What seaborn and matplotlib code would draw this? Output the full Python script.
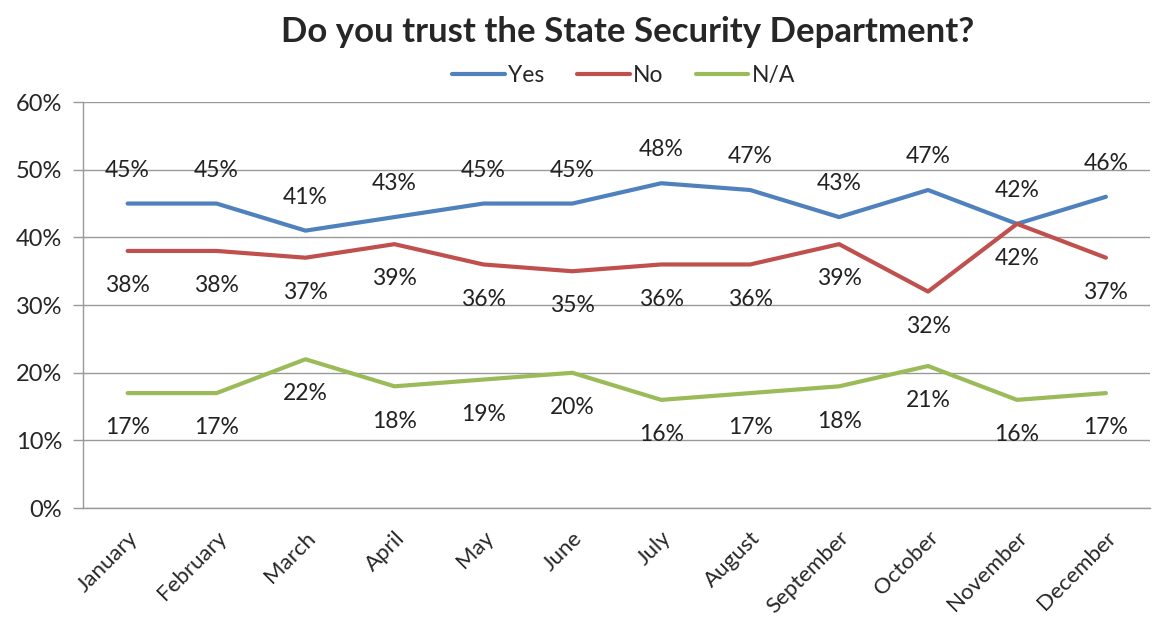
import numpy as np
import pandas as pd
import matplotlib
matplotlib.use("Agg")
import matplotlib.pyplot as plt
import seaborn as sns

months = ["January", "February", "March", "April", "May", "June", "July",
          "August", "September", "October", "November", "December"]
yes = [45, 45, 41, 43, 45, 45, 48, 47, 43, 47, 42, 46]
no = [38, 38, 37, 39, 36, 35, 36, 36, 39, 32, 42, 37]
na = [17, 17, 22, 18, 19, 20, 16, 17, 18, 21, 16, 17]

series = {"Yes": yes, "No": no, "N/A": na}
colors = {"Yes": "#4F81BD", "No": "#C0504D", "N/A": "#9BBB59"}
# label above (+) or below (-) the point, in points
offsets = {"Yes": 24, "No": -25, "N/A": -25}

rows = []
for name, vals in series.items():
    for i, v in enumerate(vals):
        rows.append({"month": months[i], "pos": i, "value": v, "answer": name})
df = pd.DataFrame(rows)

sns.set_style("white")
plt.rcParams["font.family"] = ["Lato", "DejaVu Sans"]

fig = plt.figure(figsize=(11.55, 6.22), dpi=100)
ax = fig.add_axes([0.072, 0.183, 0.924, 0.653])

sns.lineplot(data=df, x="pos", y="value", hue="answer", palette=colors,
             linewidth=3, ax=ax, legend=False)

for name, vals in series.items():
    for i, v in enumerate(vals):
        ax.annotate(f"{v}%", (i, v), xytext=(0, offsets[name]),
                    textcoords="offset points", ha="center", va="center",
                    fontsize=16.5, color="#222222")

ax.set_xlim(-0.5, 11.5)
ax.set_ylim(0, 60)
ax.set_yticks(range(0, 61, 10))
ax.set_yticklabels([f"{t}%" for t in range(0, 61, 10)], fontsize=17)
ax.yaxis.grid(True, color="#999999", linewidth=1)
ax.set_axisbelow(True)

ax.set_xticks(range(12))
ax.set_xticklabels(months, rotation=45, ha="right", rotation_mode="anchor",
                   fontsize=16)
ax.set_xticks(np.arange(-0.5, 12, 1), minor=True)
ax.tick_params(axis="x", which="major", length=0, pad=14)
ax.tick_params(axis="x", which="minor", length=7, color="#999999", width=1,
               direction="out")
ax.tick_params(axis="y", length=7, color="#999999", width=1, direction="out",
               left=True, pad=8)
ax.set_xlabel("")
ax.set_ylabel("")

for s in ["top", "right"]:
    ax.spines[s].set_visible(False)
for s in ["left", "bottom"]:
    ax.spines[s].set_color("#999999")
    ax.spines[s].set_linewidth(1)

handles = [plt.Line2D([], [], color=colors[n], linewidth=3) for n in series]
fig.legend(handles, list(series), loc="center", bbox_to_anchor=(0.54, 0.878),
           ncol=3, frameon=False, fontsize=16.5, handlelength=2.3,
           handletextpad=0.15, columnspacing=1.4)

fig.text(0.543, 0.948, "Do you trust the State Security Department?",
         ha="center", va="center", fontsize=25, fontweight="bold")

fig.savefig("out.png", dpi=100)
